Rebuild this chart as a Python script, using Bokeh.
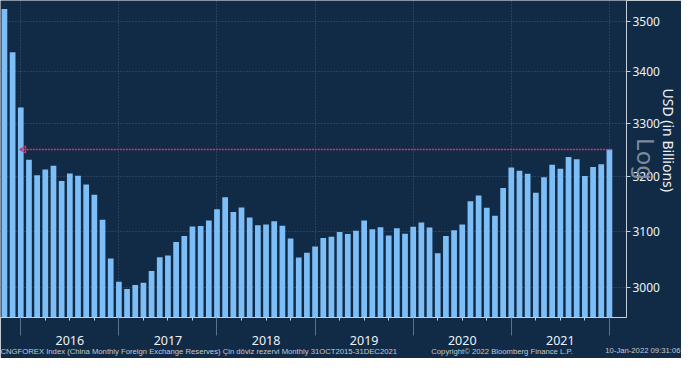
import math
from bokeh.plotting import figure
from bokeh.models import (Range1d, FixedTicker, PrintfTickFormatter, CustomJSTickFormatter,
                          LinearAxis, Title, ColumnDataSource)
from bokeh.embed import file_html
from bokeh.resources import INLINE

# ---- data (monthly, Oct 2015 .. Dec 2021), USD billions ----
reserves = [3525.5, 3438.3, 3330.4,
            3230.9, 3202.3, 3212.6, 3219.7, 3191.7, 3205.2, 3201.1, 3185.2, 3166.4, 3120.7, 3051.6, 3010.5,
            2998.2, 3005.1, 3009.1, 3029.5, 3053.6, 3056.8, 3080.7, 3091.5, 3108.5, 3109.2, 3119.3, 3139.9,
            3161.5, 3134.5, 3142.8, 3124.9, 3110.6, 3112.1, 3117.9, 3109.7, 3087.0, 3053.1, 3061.7, 3072.7,
            3087.9, 3090.2, 3098.8, 3094.9, 3101.0, 3119.2, 3103.7, 3107.2, 3092.4, 3105.2, 3095.6, 3107.9,
            3115.5, 3106.7, 3060.6, 3091.5, 3101.7, 3112.3, 3154.4, 3164.6, 3142.6, 3128.0, 3178.5, 3216.5,
            3210.7, 3205.0, 3170.0, 3198.2, 3221.8, 3214.0, 3235.9, 3232.1, 3200.6, 3217.6, 3222.4, 3250.2]
month_index = list(range(len(reserves)))          # 0 = Oct 2015
years = ["2016", "2017", "2018", "2019", "2020", "2021"]
year_bounds = [2, 14, 26, 38, 50, 62, 74]          # month index of each 31 Dec
quarter_ticks = [5, 8, 11, 17, 20, 23, 29, 32, 35, 41, 44, 47, 53, 56, 59, 65, 68, 71]
y_ticks = [3000, 3100, 3200, 3300, 3400, 3500]
footer_texts = ["CNGFOREX Index (China Monthly Foreign Exchange Reserves) Çin döviz rezervi  Monthly 31OCT2015-31DEC2021",
                "Copyright\u00a9 2022 Bloomberg Finance L.P."]
footer_date = "10-Jan-2022 09:31:06"
axis_title = "USD (in Billions)"
scale_tag = "Log"

BG = "#112a46"
BAR = "#7dbef6"
GRID = "#3f5977"
AX = "#c5d0dc"
SEP = "#5e7088"
RED = "#d0356f"
TXT = "#eef3f8"
FOOT = "#c3cbd4"

W, H = 681, 358
FW, FH = 626, 317
X0, X1 = -0.48, 76.09

def px_to_x(px):
    return X0 + px * (X1 - X0) / FW

p = figure(width=W, height=H, x_range=Range1d(X0, X1), y_range=Range1d(2949, 3543),
           y_axis_type="log", y_axis_location="right", output_backend="svg",
           toolbar_location=None, min_border_left=0, min_border_top=0,
           min_border_right=W - FW, min_border_bottom=H - FH,
           background_fill_color=BG, border_fill_color=BG, outline_line_color=None)

src = ColumnDataSource(dict(x=month_index, v=reserves))
p.vbar(x="x", top="v", bottom=2900, width=0.7, source=src, fill_color=BAR, line_color=None)

# reference line at latest value
p.line(x=[year_bounds[0], month_index[-1] + 0.35], y=[reserves[-1], reserves[-1]],
       line_color=RED, line_dash="2 1", line_width=1.3)
p.scatter(x=[year_bounds[0] + 0.35], y=[reserves[-1]], marker="triangle", angle=math.pi / 2,
          size=7, fill_color=None, line_color=RED, line_width=1.2)

# right (y) axis
ya = p.yaxis[0]
ya.ticker = FixedTicker(ticks=y_ticks)
ya.formatter = PrintfTickFormatter(format="%d")
ya.major_tick_in = 0
ya.major_tick_out = 4
ya.minor_tick_in = 0
ya.minor_tick_out = 0
ya.axis_line_color = AX
ya.major_tick_line_color = AX
ya.major_label_standoff = 2
ya.major_label_text_color = TXT
ya.major_label_text_font = "Noto Sans"
ya.major_label_text_font_size = "12px"
ya.axis_label = scale_tag
ya.axis_label_standoff = -33
ya.axis_label_text_color = "#7c8a9a"
ya.axis_label_text_font = "Noto Sans"
ya.axis_label_text_font_size = "24px"
ya.axis_label_text_font_style = "normal"

p.add_layout(Title(text=axis_title, align="left", offset=88, standoff=-13,
                   text_color=TXT, text_font="Noto Sans", text_font_size="14px",
                   text_font_style="normal"), "right")

# bottom axis A: year separators + quarter ticks
xa = p.xaxis[0]
xa.ticker = FixedTicker(ticks=year_bounds, minor_ticks=quarter_ticks)
xa.formatter = CustomJSTickFormatter(code="return ''")
xa.major_tick_in = 0
xa.major_tick_out = 18
xa.major_tick_line_color = SEP
xa.minor_tick_in = 0
xa.minor_tick_out = 3
xa.minor_tick_line_color = AX
xa.axis_line_color = AX
xa.major_label_standoff = 0

# bottom axis B: year labels centred between separators
year_mid = [(a + b) / 2 for a, b in zip(year_bounds[:-1], year_bounds[1:])]
xb = LinearAxis(ticker=FixedTicker(ticks=year_mid),
                formatter=CustomJSTickFormatter(args=dict(labels=years), code="return labels[index]"),
                axis_line_color=None, major_tick_line_color=None, minor_tick_line_color=None,
                major_tick_in=0, major_tick_out=0, minor_tick_in=0, minor_tick_out=0,
                major_label_standoff=0, major_label_text_color=TXT,
                major_label_text_font="Noto Sans", major_label_text_font_size="12.5px")
p.add_layout(xb, "below")

# footer: date (right aligned title), then index description + copyright (axis labels)
p.add_layout(Title(text=footer_date, align="right", offset=-54, vertical_align="top", standoff=-2.4,
                   text_color=FOOT, text_font="Liberation Sans", text_font_size="7.7px",
                   text_font_style="normal"), "below")

footer_px = [198, 501.5]
xc = LinearAxis(ticker=FixedTicker(ticks=[px_to_x(v) for v in footer_px]),
                formatter=CustomJSTickFormatter(args=dict(labels=footer_texts), code="return labels[index]"),
                axis_line_color=None, major_tick_line_color=None, minor_tick_line_color=None,
                major_tick_in=0, major_tick_out=0, minor_tick_in=0, minor_tick_out=0,
                major_label_standoff=-10, major_label_text_color=FOOT,
                major_label_text_font="Liberation Sans", major_label_text_font_size="7.7px")
p.add_layout(xc, "below")

# grids
p.xgrid.ticker = FixedTicker(ticks=year_bounds)
p.ygrid.ticker = FixedTicker(ticks=y_ticks)
for g in (p.xgrid[0], p.ygrid[0]):
    g.grid_line_color = GRID
    g.grid_line_dash = "1 2"
    g.grid_line_width = 1

open("out.html", "w").write(file_html(p, INLINE))
